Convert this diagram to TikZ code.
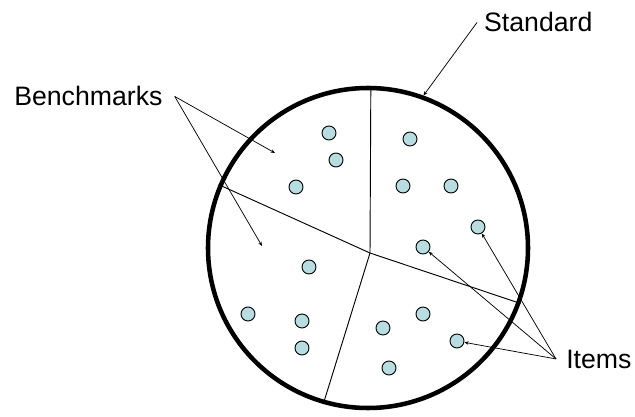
\documentclass[tikz,border=0pt]{standalone}
\usepackage{fontspec}
\setmainfont{Liberation Sans}
\usepackage{tikz}
\usepackage{xcolor}
\usetikzlibrary{arrows.meta,positioning,calc}
\definecolor{ink}{HTML}{000000}
\definecolor{itemfill}{HTML}{B7DDE0}
\tikzset{
  standardring/.style={draw=ink,circle,line width=3.4pt,minimum size=240pt,
                       inner sep=0pt,outer sep=1.7pt},
  partline/.style={draw=ink,line width=0.7pt},
  itemdot/.style={draw=ink,fill=itemfill,circle,line width=0.7pt,
                  minimum size=10.5pt,inner sep=0pt},
  labeltext/.style={font=\fontsize{20}{24}\selectfont,inner ysep=0pt},
  pointarr/.style={-{Stealth[length=3.2pt,width=2.6pt]},line width=0.55pt,color=ink}
}
\begin{document}
\begin{tikzpicture}[x=0.75pt,y=-0.75pt]
      \useasboundingbox (0,0) rectangle (635,417);
      % the standard and its partition into benchmark regions
      \node[standardring] (ring) at (368,248) {};
      \coordinate (hub) at (370,253);
      \draw[partline] (hub) -- (ring.89.3);
      \draw[partline] (hub) -- (ring.157.7);
      \draw[partline] (hub) -- (ring.-20.8);
      \draw[partline] (hub) -- (ring.-106);

      % items
      \foreach \px/\py [count=\i] in {329/133,336/160,296/187,
                                      410/139,403/186,451/186,478/227,423/247,
                                      309/267,248/314,302/321,302/348,
                                      383/328,423/314,457/341,389/368}
        \node[itemdot] (d\i) at (\px,\py) {};

      % labels
      \node[labeltext,inner xsep=9pt,anchor=base west] (bench) at (2,106) {Benchmarks};
      \node[labeltext,inner xsep=5.2pt,anchor=base west] (stdlabel) at (477,32) {Standard};
      \node[labeltext,inner xsep=7.5pt,anchor=base west] (items) at (556,368) {Items};

      \coordinate (regionA) at (275,153);
      \coordinate (regionB) at (262,246);
      \draw[pointarr] (bench.east) -- (regionA);
      \draw[pointarr] (bench.east) -- (regionB);
      \draw[pointarr] (stdlabel.west) -- (ring.70);
      \draw[pointarr] (items.west) -- (d7);
      \draw[pointarr] (items.west) -- (d8);
      \draw[pointarr] (items.west) -- (d15);
    \end{tikzpicture}
\end{document}
